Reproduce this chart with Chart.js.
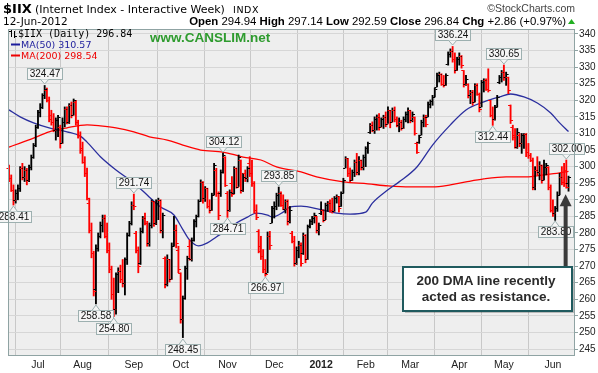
<!DOCTYPE html>
<html>
<head>
<meta charset="utf-8">
<title>$IIX Daily</title>
<script src="https://cdn.jsdelivr.net/npm/chart.js@4.4.1/dist/chart.umd.min.js"></script>
<style>
  html, body { margin: 0; padding: 0; background: #fff; }
  #box { position: relative; width: 598px; height: 373px; overflow: hidden; }
  #chart { position: absolute; left: 0; top: 0; }
  #overlay { position: absolute; left: 0; top: 0; pointer-events: none; }
</style>
</head>
<body>
<div id="box">
  <canvas id="chart" width="598" height="373"></canvas>
  <svg id="overlay" width="598" height="373" xmlns="http://www.w3.org/2000/svg">
    <g font-family="'DejaVu Sans', Verdana, sans-serif" fill="#000">
      <text x="3" y="13" font-size="13" font-weight="bold">$IIX</text>
      <text x="35" y="13" font-size="11">(Internet Index - Interactive Week)</text>
      <text x="233" y="13" font-size="9.5" letter-spacing="0.6">INDX</text>
      <text x="3" y="25" font-size="10.5">12-Jun-2012</text>
    </g>
    <text x="575" y="12" text-anchor="end" font-family="'Liberation Sans', Arial, sans-serif" font-size="10.5" fill="#444">©StockCharts.com</text>
    <text x="566" y="25" text-anchor="end" font-family="'Liberation Sans', Arial, sans-serif" font-size="11.4" fill="#000"><tspan font-weight="bold">Open</tspan> 294.94 <tspan font-weight="bold">High</tspan> 297.14 <tspan font-weight="bold">Low</tspan> 292.59 <tspan font-weight="bold">Close</tspan> 296.84 <tspan font-weight="bold">Chg</tspan> +2.86 (+0.97%)</text>
    <polygon points="568,24 575,24 571.5,19" fill="#22B022"/>

    <!-- legend -->
    <g stroke="#000" stroke-width="1">
      <line x1="11.5" y1="30" x2="11.5" y2="37"/>
      <line x1="9" y1="31.5" x2="11" y2="31.5"/>
      <line x1="14.5" y1="31" x2="14.5" y2="38"/>
      <line x1="15" y1="36.5" x2="17" y2="36.5"/>
    </g>
    <text x="18" y="37" font-family="'DejaVu Sans Mono', monospace" font-size="10" fill="#000">$IIX (Daily) 296.84</text>
    <line x1="11" y1="44.5" x2="20" y2="44.5" stroke="#1C1C9C" stroke-width="2"/>
    <text x="21" y="48" font-family="'DejaVu Sans', Verdana, sans-serif" font-size="9.5" fill="#1C1C9C">MA(50) 310.57</text>
    <line x1="11" y1="55.5" x2="20" y2="55.5" stroke="#EE0000" stroke-width="2"/>
    <text x="21" y="59" font-family="'DejaVu Sans', Verdana, sans-serif" font-size="9.5" fill="#EE0000">MA(200) 298.54</text>

    <text x="150" y="41.5" font-family="'Liberation Sans', Arial, sans-serif" font-size="13.5" font-weight="bold" fill="#2E9B2E">www.CANSLIM.net</text>

    <!-- note -->
    <rect x="405" y="269" width="169" height="44" fill="rgba(0,0,0,0.22)"/>
    <rect x="403" y="267" width="169" height="44" fill="#fff" stroke="#1F5A5E" stroke-width="2"/>
    <g font-family="'Liberation Sans', Arial, sans-serif" font-size="13.5" font-weight="bold" fill="#2B2B2B" text-anchor="middle">
      <text x="486" y="285">200 DMA line recently</text>
      <text x="486" y="301">acted as resistance.</text>
    </g>
  </svg>
</div>
<script>
// trading day index 0 = 14-Jun-2011 ... 251 = 12-Jun-2012
var monthTicks = [13, 33, 56, 77, 98, 119, 140, 160, 180, 202, 222, 244];
var monthLabels = ['Jul', 'Aug', 'Sep', 'Oct', 'Nov', 'Dec', '2012', 'Feb', 'Mar', 'Apr', 'May', 'Jun'];
var priceTicks = [245, 250, 255, 260, 265, 270, 275, 280, 285, 290, 295, 300, 305, 310, 315, 320, 325, 330, 335, 340];

var opens = [
  299.5, 296.5, 293, 290, 292, 293.5, 299.5, 297, 299, 296, 300, 303, 306.5, 312, 316.5, 318, 321.5, 323, 320, 315.5,
  313.5, 311, 314, 312, 307, 313.5, 317.5, 313.5, 318.5, 315.5, 319.5, 313.5, 309.5, 305.5, 301.5, 298, 289, 281, 274, 263,
  275.5, 279, 282.5, 284.5, 279, 275, 269, 261.5, 257, 267.5, 268.5, 266, 265, 272, 279.5, 283, 288.5, 280, 275, 271,
  280.5, 284.5, 283, 277, 282.5, 289.5, 283, 289, 289.8, 281, 272.5, 264.5, 272, 266, 276, 281, 275, 268, 254, 260.5,
  269.5, 276, 272, 278, 283.5, 285, 289.5, 295.5, 290.5, 293.5, 288, 287, 291.5, 299, 292, 292, 298.5, 303, 292, 287,
  295, 292, 299.5, 294, 302, 293, 298, 296.5, 301, 298, 295, 287, 280.5, 276, 273, 269, 268, 279, 283, 287.5,
  288, 291.5, 292, 288.5, 287.2, 289.5, 283.5, 280, 277.5, 271, 275, 276.5, 274, 279.5, 272, 282, 283.5, 284.5, 285, 281,
  286, 287, 284, 288.5, 289, 287, 286.5, 290.5, 291, 288, 292, 299.6, 302.5, 298, 296, 298.5, 301.5, 298.5, 302, 300,
  303, 305.5, 310.5, 312.5, 311, 314.5, 315, 312, 314.5, 315, 313, 317, 313.5, 317, 314.5, 312.5, 313.5, 311.5, 314.5, 316,
  317, 314, 315, 307, 307.4, 309.5, 313.5, 315, 315, 319, 319.8, 321, 324, 327.5, 328, 325, 324.5, 331, 334, 335,
  332.5, 329, 332.5, 333.5, 329, 325, 325, 321.5, 322.5, 319.5, 324.5, 322, 318, 325.5, 326, 323.5, 320, 315.5, 314.5, 318,
  325.5, 327, 328.5, 327, 327, 318.5, 312, 309.5, 306, 309.5, 307, 309.5, 309.8, 304.5, 303.5, 302, 294, 299, 298.5, 300.5,
  296, 300, 300, 294, 287, 286, 287.5, 291.5, 297, 295.5, 299, 294.94
];
var highs = [
  300.5, 297.5, 294.5, 293, 294.5, 300, 301, 300, 299.5, 300.5, 303.5, 307, 312.5, 317, 319, 322, 324.47, 323.7, 321, 317,
  316, 314.7, 315.5, 312.5, 314.7, 318, 318, 319, 319.5, 320.4, 320, 314, 310.5, 307.4, 303, 299.6, 290.5, 283, 274.5, 276.4,
  280, 283.3, 285.4, 285.4, 283, 277, 270, 266.4, 268, 269.5, 270.3, 272, 272.5, 280, 283.5, 289.4, 291.74, 280.5, 275.8, 281.5,
  285, 286, 283.5, 283, 290, 289.5, 290, 290.5, 290, 286, 272.8, 273.4, 272, 277, 285, 282.4, 276, 268, 261, 270,
  273, 277.9, 278.5, 284, 285.4, 290, 296, 295.5, 294, 293.5, 290, 292, 301, 299.5, 292.4, 299, 304.12, 303, 292.5, 293,
  297, 300, 299.6, 303.5, 302, 298, 299, 300, 303, 302, 295.5, 288.5, 281, 279, 275, 272, 280.3, 280.5, 288, 289.4,
  292, 293.85, 292.4, 291.5, 290, 290, 288, 280.5, 279, 275.8, 277.5, 277, 280, 279.5, 282.4, 284, 285, 286, 285, 283,
  289.4, 287, 289, 289.5, 290, 290.5, 291, 291.5, 291, 292.4, 296.5, 303, 302.5, 299.6, 299, 302, 304, 303, 302, 303.5,
  306, 307.4, 313, 313.5, 315, 315.6, 316, 314.7, 315.5, 316.5, 318, 317, 317.7, 318, 315, 314.7, 314, 315, 316.5, 317.7,
  317, 316.5, 315, 307.4, 309.5, 314, 315.6, 315.5, 319.5, 320.1, 321.5, 323.7, 328.2, 328.5, 328, 327.5, 328, 334.6, 335.5, 336.24,
  334.3, 333, 334.3, 333.5, 329, 327.5, 325, 323, 323, 325, 325, 322.2, 326, 326.5, 326.5, 329.5, 320, 318, 318.5, 321.5,
  327.5, 329, 330.65, 328.5, 327, 318.6, 312.5, 311.5, 311.5, 310, 310, 310, 310, 307, 304, 302.6, 300, 303, 301.5, 300.5,
  302, 301, 300, 294.5, 290, 288, 292.4, 298, 300, 301, 302, 297.14
];
var lows = [
  295.5, 292.5, 288.41, 289, 290, 292.5, 296, 295.5, 294.5, 295.5, 299, 302.5, 306, 311.5, 315, 317.5, 320.5, 319.5, 313.5, 312.5,
  310.5, 308, 309, 305.6, 307, 312, 312.9, 313, 314.7, 315.5, 312.5, 308.6, 304, 301, 297, 290, 280, 272.5, 261, 258.58,
  274.5, 278.5, 280.3, 278.5, 274, 268, 260, 254.8, 255.5, 262, 265, 263.7, 261.3, 270.5, 279, 282.4, 287, 274, 268, 270.5,
  280, 282.4, 276, 276, 281.5, 282, 282.5, 284, 280, 278.5, 263.4, 264, 265.2, 266, 276, 275.5, 268, 252.8, 248.45, 260,
  266, 271.8, 271.5, 277.5, 281.8, 284.8, 289.5, 289, 289.5, 287.5, 286, 286.8, 291.5, 291, 284, 291, 298, 294, 284.71, 286.5,
  291, 291.8, 293.5, 294, 292, 292.5, 295.5, 295.4, 297, 294, 286, 284, 274, 272, 268, 266.97, 268, 275, 283, 284.5,
  287, 288, 288, 287, 286, 282.4, 283, 277, 270, 270.5, 272.5, 270, 273.5, 271, 272, 281.5, 282.5, 283, 280, 279.4,
  285.5, 283.3, 284, 286.5, 286.3, 286, 286.5, 289, 286.3, 288, 292, 299.6, 297, 295.4, 295.8, 297, 297.5, 297.5, 299, 299,
  300, 304, 310, 310.5, 310, 311, 311, 312, 311.5, 312, 313, 311.7, 313.5, 313.5, 312, 310.5, 311, 311.5, 313.5, 313.2,
  313.2, 313.5, 309.5, 304, 307, 309.5, 312, 312, 315, 317.7, 318.5, 321, 324, 325.5, 324.5, 324, 324.5, 330.6, 333, 331.5,
  328.2, 329, 330.6, 329.7, 324, 324.5, 320.7, 319, 318.5, 319.5, 321.5, 316.5, 318, 322.5, 323, 322.5, 315, 312.44, 314, 318,
  325, 325.5, 326, 324.5, 322, 313, 308, 305.6, 305.5, 306, 304, 305.5, 303, 302.5, 301.5, 293, 293, 297.5, 296, 295,
  296, 297.5, 293, 286.3, 285, 283.8, 286.5, 291.5, 294.5, 294, 293.5, 292.59
];
var closes = [
  296.5, 293, 290, 292, 293.5, 299.5, 297, 299, 296, 300, 303, 306.5, 312, 316.5, 318, 321.5, 323.5, 320, 314.5, 313.5,
  311, 314, 315, 307, 313.5, 317.5, 313.5, 318.5, 315.5, 320, 313.5, 309.5, 305, 301.5, 298, 290.5, 281, 274, 262.5, 275.5,
  279, 282.5, 284.5, 279, 275, 269, 261.5, 257, 267.5, 268.5, 266, 265, 272, 279.5, 283, 288.5, 288, 275, 270, 280.5,
  284.5, 283, 277, 282.5, 289.5, 283, 289, 289.8, 281, 285.5, 264.5, 272, 266, 276, 281, 277, 269, 254, 260.5, 269.5,
  272.5, 272, 278, 283.5, 285, 289.5, 295.5, 290.5, 293.5, 288, 287, 291.5, 300.5, 292, 285.5, 298.5, 303.5, 294.5, 287, 292.5,
  291.8, 299.5, 294, 303, 293, 297, 296.5, 299.5, 298, 295, 287, 284.8, 274.5, 273, 269, 267.5, 279, 276.5, 287.5, 288,
  291.5, 292, 288.5, 287.2, 289.5, 283.5, 287, 277.5, 271, 275, 276.5, 271, 279.5, 272, 282, 283.5, 284.5, 285.5, 281, 282.5,
  287, 284, 288.5, 289, 287, 286.5, 290.5, 291, 287.5, 292, 296, 302.5, 298, 296, 298.5, 301.5, 298.5, 302, 300, 303,
  305.5, 307, 312.5, 311, 314.5, 315, 312, 314.5, 315, 313, 317, 313.5, 317, 314.5, 312.5, 313.5, 311.5, 314.5, 316, 317,
  314, 316, 310, 304.5, 309, 313.5, 315, 313, 319, 319.8, 321, 323.5, 327.5, 328, 325, 324.5, 327.5, 334, 335, 332.5,
  329, 332.5, 333.5, 330.5, 325, 326.5, 321.5, 322.5, 319.5, 324.5, 322, 317.5, 325.5, 326, 323.5, 323, 315.5, 314.5, 318, 321,
  327, 328.5, 327, 328, 323, 314, 309, 306, 310.5, 307, 309.5, 309.8, 304.5, 303.5, 302, 294, 299, 298.5, 300.5, 296,
  300, 300.5, 294, 287, 286, 287.5, 291.5, 297, 295.5, 295, 293.98, 296.84
];

// moving averages (trading day index, value)
var ma50Days = [0, 5, 11, 18, 26, 32, 35, 41, 48, 56, 63, 68, 74, 78, 81, 85, 89, 93, 98, 102, 107, 111, 116, 118, 123, 126, 131, 140, 147, 153, 160, 163, 170, 175, 183, 190, 198, 205, 213, 220, 225, 231, 237, 243, 247, 251];
var ma50Values = [317.1, 315, 313.2, 311.7, 310.5, 309.2, 307.4, 303, 299, 295.1, 290.8, 287.8, 285.4, 281, 277.9, 276.1, 277, 278.8, 280.9, 283, 284.8, 286, 285.4, 284.8, 286.3, 287.8, 288.1, 287, 286, 285.7, 286.3, 289, 293, 295.4, 299.9, 306.5, 312.6, 317.1, 319.5, 321, 321.9, 321, 319.2, 316.2, 313.2, 310.57];
var ma200Days = [0, 5, 11, 18, 26, 35, 41, 48, 56, 63, 71, 78, 86, 96, 105, 113, 120, 131, 138, 150, 161, 170, 180, 190, 198, 205, 213, 223, 232, 240, 247, 251];
var ma200Values = [305.9, 307.1, 308.6, 310.5, 311.7, 312.6, 312.3, 311.7, 310.5, 309, 308, 306.5, 305, 304.4, 302.9, 302, 299.9, 298.4, 296.9, 295.4, 294.8, 294.2, 293.9, 293.9, 294.5, 295.4, 296.3, 296.9, 296.9, 297.5, 298.1, 298.54];

// which bars carry a price tag
var taggedHighs = [16, 56, 96, 121, 199, 222, 250];
var taggedLows = [2, 39, 47, 78, 98, 115, 217, 245];

var barColors = closes.map(function (c, i) {
    var prev = i ? closes[i - 1] : opens[i];
    return c < prev ? '#FF0000' : '#000000';
});

var ranges = highs.map(function (h, i) { return { x: i, y: [lows[i], h] }; });
var ma50 = ma50Days.map(function (d, i) { return { x: d, y: ma50Values[i] }; });
var ma200 = ma200Days.map(function (d, i) { return { x: d, y: ma200Values[i] }; });

var frame = {
    id: 'frame',
    beforeDraw: function (chart) {
        var a = chart.chartArea, ctx = chart.ctx;
        ctx.save();
        ctx.fillStyle = '#EEEEEE';
        ctx.fillRect(a.left, a.top, a.right - a.left, a.bottom - a.top);
        ctx.restore();
    },
    afterDraw: function (chart) {
        var a = chart.chartArea, ctx = chart.ctx;
        ctx.save();
        ctx.strokeStyle = '#8FA3A3';
        ctx.lineWidth = 1;
        ctx.strokeRect(a.left + 0.5, a.top + 0.5, a.right - a.left - 1, a.bottom - a.top - 1);
        ctx.restore();
    }
};

function drawTag(ctx, px, py, text, above) {
    ctx.font = '10px "Liberation Sans", Arial, sans-serif';
    var w = Math.round(ctx.measureText(text).width) + 4, h = 11;
    var tip = above ? Math.round(py) - 1 : Math.round(py) + 1;
    var top = above ? tip - 5 - h : tip + 5;
    var left = Math.round(px - w / 2) + 0.5;
    top += 0.5;
    ctx.fillStyle = '#F5F5F5';
    ctx.strokeStyle = '#9DB0B0';
    ctx.lineWidth = 1;
    ctx.fillRect(left, top, w, h);
    ctx.strokeRect(left, top, w, h);
    var base = above ? top + h : top;
    ctx.beginPath();
    ctx.moveTo(px - 4, base);
    ctx.lineTo(px, tip);
    ctx.lineTo(px + 4, base);
    ctx.closePath();
    ctx.fill();
    ctx.beginPath();
    ctx.moveTo(px - 4, base);
    ctx.lineTo(px, tip);
    ctx.lineTo(px + 4, base);
    ctx.stroke();
    ctx.fillStyle = '#111';
    ctx.textAlign = 'center';
    ctx.textBaseline = 'middle';
    ctx.fillText(text, left + w / 2, top + h / 2 + 0.5);
}

var ohlc = {
    id: 'ohlc',
    afterDatasetsDraw: function (chart) {
        var ctx = chart.ctx, xs = chart.scales.x, ys = chart.scales.y;
        ctx.save();
        // open / close ticks
        for (var i = 0; i < closes.length; i++) {
            var x = xs.getPixelForValue(i);
            ctx.fillStyle = barColors[i];
            ctx.fillRect(x - 2.5, Math.round(ys.getPixelForValue(opens[i])), 2, 1);
            ctx.fillRect(x + 0.5, Math.round(ys.getPixelForValue(closes[i])), 2, 1);
        }
        // price tags
        taggedHighs.forEach(function (d) {
            drawTag(ctx, xs.getPixelForValue(d), ys.getPixelForValue(highs[d]), highs[d].toFixed(2), true);
        });
        taggedLows.forEach(function (d) {
            drawTag(ctx, xs.getPixelForValue(d), ys.getPixelForValue(lows[d]), lows[d].toFixed(2), false);
        });
        // arrow from the note up to the last bars
        var ax = xs.getPixelForValue(249.7), tipY = ys.getPixelForValue(291.7);
        ctx.fillStyle = '#3A3A3A';
        ctx.fillRect(ax - 2, tipY + 11, 4, 267 - tipY - 11);
        ctx.beginPath();
        ctx.moveTo(ax, tipY);
        ctx.lineTo(ax + 6, tipY + 12);
        ctx.lineTo(ax - 6, tipY + 12);
        ctx.closePath();
        ctx.fill();
        ctx.restore();
    }
};

new Chart(document.getElementById('chart').getContext('2d'), {
    data: {
        datasets: [{
            type: 'bar',
            data: ranges,
            backgroundColor: barColors,
            barThickness: 1.2,
            order: 0
        }, {
            type: 'line',
            data: ma50,
            borderColor: '#2A2E9E',
            borderWidth: 1.3,
            pointRadius: 0,
            cubicInterpolationMode: 'monotone',
            order: 1
        }, {
            type: 'line',
            data: ma200,
            borderColor: '#FF0000',
            borderWidth: 1.3,
            pointRadius: 0,
            cubicInterpolationMode: 'monotone',
            order: 2
        }]
    },
    options: {
        responsive: false,
        animation: false,
        events: [],
        layout: { padding: { left: 8, top: 29, right: 0, bottom: 0 } },
        plugins: { legend: { display: false }, tooltip: { enabled: false } },
        scales: {
            x: {
                type: 'linear',
                min: -0.45,
                max: 253.9,
                offset: false,
                afterBuildTicks: function (s) { s.ticks = monthTicks.map(function (v) { return { value: v }; }); },
                afterFit: function (s) { s.height = 17; },
                grid: { color: '#C8C8C8', drawTicks: false },
                border: { display: false },
                ticks: {
                    autoSkip: false,
                    maxRotation: 0,
                    padding: 3,
                    color: '#222',
                    font: function (c) {
                        return { family: '"Liberation Sans", Arial, sans-serif', size: 10.5, weight: (c.tick && c.tick.value === 140) ? 'bold' : 'normal' };
                    },
                    callback: function (v) { return monthLabels[monthTicks.indexOf(v)]; }
                }
            },
            y: {
                position: 'right',
                min: 242.9,
                max: 341.5,
                afterBuildTicks: function (s) { s.ticks = priceTicks.map(function (v) { return { value: v }; }); },
                afterFit: function (s) { s.width = 23; },
                grid: { color: '#D6D6D6', tickColor: '#8FA3A3', tickLength: 3 },
                border: { display: false },
                ticks: {
                    padding: 1,
                    color: '#222',
                    font: { family: '"Liberation Sans", Arial, sans-serif', size: 10 }
                }
            }
        }
    },
    plugins: [frame, ohlc]
});
</script>
</body>
</html>
